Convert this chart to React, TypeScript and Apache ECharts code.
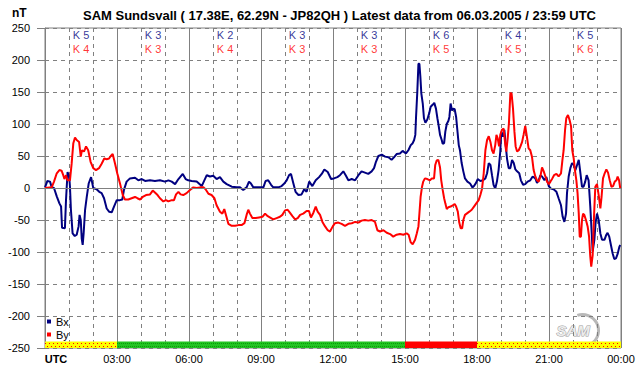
import React, { useEffect, useRef } from "react";
import * as echarts from "echarts";

const FONT = "'Liberation Sans', Arial, sans-serif";

const titleText = "SAM Sundsvall ( 17.38E, 62.29N - JP82QH ) Latest data from 06.03.2005 / 23:59 UTC";

// Bx component [hour UTC, nT]
const bx: [number, number][] = [
  [0, 1], [0.1, 11], [0.21, 10], [0.28, 1], [0.375, 0], [0.49, -13], [0.6, -24], [0.67, -29], [0.71, -62], [0.83, -63],
  [0.875, -19], [0.94, 25], [1.01, 18], [1.04, 2], [1.08, -34], [1.15, -71], [1.24, -75], [1.32, -73], [1.4, -60], [1.44, -42],
  [1.49, -50], [1.53, -79], [1.57, -89], [1.61, -71], [1.67, -34], [1.74, -14], [1.82, 7], [1.92, 17], [2.01, 0], [2.15, -2],
  [2.26, -6], [2.36, -8], [2.46, -16], [2.57, -32], [2.67, -37], [2.78, -38], [2.875, -29], [2.99, -19], [3.125, -19], [3.22, -18],
  [3.29, -3], [3.4, 10], [3.54, 15], [3.75, 16], [3.89, 12], [4.03, 14], [4.17, 11], [4.375, 12], [4.58, 11], [4.79, 12],
  [5.0, 10], [5.14, 12], [5.28, 10], [5.42, 6], [5.56, 14], [5.74, 22], [5.86, 14], [5.97, 12], [6.11, 11], [6.32, 10],
  [6.53, 3], [6.64, 12], [6.74, 20], [6.875, 18], [7.01, 19], [7.15, 14], [7.29, 17], [7.43, 10], [7.57, 6], [7.78, 2],
  [7.99, 1], [8.125, 1], [8.26, -3], [8.4, 1], [8.5, 10], [8.58, 7], [8.68, 1], [8.82, 1], [8.96, 1], [9.1, 1],
  [9.19, 11], [9.3, 12], [9.42, 5], [9.51, 1], [9.72, 1], [9.86, 3], [9.97, 7], [10.07, 12], [10.17, 20], [10.25, 22],
  [10.35, 7], [10.44, -6], [10.56, -11], [10.69, -10], [10.8, -2], [10.9, -6], [11.01, 10], [11.14, 3], [11.28, 12], [11.42, 17],
  [11.53, 22], [11.64, 29], [11.78, 25], [11.92, 14], [12.04, 15], [12.18, 17], [12.29, 20], [12.43, 26], [12.54, 19], [12.64, 12],
  [12.78, 14], [12.92, 12], [13.06, 20], [13.19, 26], [13.33, 24], [13.47, 22], [13.61, 26], [13.71, 31], [13.79, 41], [13.89, 50],
  [14.03, 52], [14.17, 49], [14.31, 48], [14.44, 44], [14.54, 48], [14.65, 53], [14.79, 54], [14.9, 58], [15.04, 54], [15.14, 59],
  [15.24, 67], [15.32, 70], [15.38, 75], [15.43, 83], [15.46, 111], [15.51, 148], [15.56, 194], [15.6, 194], [15.64, 174], [15.68, 148],
  [15.74, 132], [15.79, 109], [15.85, 102], [15.93, 107], [16.01, 117], [16.07, 127], [16.15, 130], [16.22, 133], [16.29, 124], [16.35, 109],
  [16.4, 98], [16.46, 83], [16.53, 75], [16.57, 69], [16.63, 70], [16.68, 88], [16.74, 100], [16.81, 105], [16.85, 111], [16.9, 132],
  [16.96, 121], [17.01, 124], [17.07, 123], [17.13, 111], [17.18, 91], [17.24, 67], [17.29, 59], [17.36, 39], [17.43, 26], [17.5, 15],
  [17.6, 10], [17.71, 7], [17.81, 1], [17.875, 3], [17.96, 8], [18.03, 14], [18.14, 11], [18.25, 12], [18.35, 15], [18.42, 23],
  [18.49, 39], [18.56, 36], [18.625, 20], [18.69, 5], [18.76, -1], [18.83, 10], [18.9, 28], [18.97, 57], [19.01, 88], [19.08, 80],
  [19.14, 91], [19.19, 70], [19.25, 46], [19.32, 31], [19.39, 31], [19.46, 44], [19.53, 39], [19.6, 29], [19.67, 26], [19.76, 23],
  [19.83, 12], [19.92, 5], [20.01, 6], [20.11, 10], [20.22, 12], [20.32, 18], [20.43, 15], [20.5, 8], [20.57, 12], [20.64, 20],
  [20.71, 18], [20.81, 12], [20.89, 17], [20.99, 3], [21.08, -1], [21.19, -2], [21.31, -6], [21.4, -16], [21.5, -27], [21.57, -45],
  [21.64, -53], [21.71, -40], [21.75, -8], [21.82, 18], [21.89, 31], [21.96, 39], [22.03, 36], [22.1, 28], [22.17, 36], [22.24, 44],
  [22.31, 23], [22.375, 2], [22.44, 2], [22.51, 10], [22.57, 20], [22.65, 12], [22.72, -29], [22.78, -71], [22.82, -99], [22.89, -81],
  [22.94, -55], [23.0, -40], [23.07, -50], [23.14, -71], [23.21, -81], [23.31, -81], [23.39, -73], [23.44, -70], [23.51, -76], [23.58, -89],
  [23.65, -102], [23.72, -111], [23.79, -110], [23.86, -103], [23.93, -92], [23.97, -89],
];

// By component [hour UTC, nT]
const by: [number, number][] = [
  [0, 0], [0.28, 1], [0.375, 10], [0.49, 23], [0.6, 28], [0.69, 27], [0.76, 20], [0.81, 14], [0.875, 20], [0.94, 12],
  [1.04, 12], [1.11, 38], [1.18, 70], [1.25, 79], [1.32, 75], [1.42, 72], [1.49, 49], [1.54, 59], [1.625, 57], [1.71, 65],
  [1.8, 59], [1.9, 41], [2.01, 31], [2.125, 28], [2.25, 31], [2.36, 38], [2.47, 46], [2.57, 45], [2.67, 46], [2.74, 50],
  [2.82, 53], [2.92, 38], [3.01, 23], [3.125, 7], [3.24, -11], [3.33, -18], [3.47, -18], [3.61, -16], [3.75, -14], [3.85, -16],
  [3.96, -18], [4.07, -14], [4.21, -11], [4.375, -10], [4.49, -4], [4.58, -7], [4.69, -11], [4.79, -16], [4.93, -21], [5.04, -19],
  [5.14, -21], [5.28, -19], [5.375, -19], [5.46, -10], [5.56, -6], [5.65, -10], [5.76, -11], [5.9, -8], [6.04, -3], [6.18, 1],
  [6.32, 0], [6.46, 1], [6.6, 1], [6.69, -2], [6.81, -9], [6.94, -11], [7.06, -16], [7.15, -27], [7.29, -37], [7.39, -40],
  [7.47, -33], [7.56, -45], [7.64, -56], [7.78, -59], [7.92, -59], [8.06, -58], [8.19, -58], [8.31, -55], [8.4, -42], [8.47, -34],
  [8.54, -40], [8.64, -47], [8.78, -47], [8.92, -46], [9.06, -45], [9.17, -40], [9.28, -44], [9.42, -47], [9.51, -49], [9.65, -47],
  [9.79, -45], [9.89, -42], [10.0, -35], [10.11, -34], [10.21, -39], [10.31, -44], [10.42, -49], [10.53, -47], [10.63, -42], [10.76, -40],
  [10.9, -36], [11.0, -36], [11.08, -46], [11.18, -39], [11.28, -29], [11.36, -37], [11.46, -42], [11.56, -53], [11.67, -60], [11.78, -66],
  [11.875, -68], [11.99, -60], [12.08, -55], [12.22, -54], [12.36, -56], [12.5, -59], [12.64, -56], [12.78, -55], [12.92, -53], [13.06, -54],
  [13.19, -51], [13.33, -50], [13.47, -51], [13.61, -50], [13.75, -53], [13.85, -66], [13.96, -68], [14.1, -66], [14.24, -70], [14.38, -72],
  [14.51, -76], [14.65, -73], [14.79, -72], [14.93, -73], [15.07, -71], [15.15, -73], [15.24, -85], [15.32, -88], [15.42, -81], [15.49, -71],
  [15.56, -60], [15.6, -40], [15.65, -14], [15.71, 2], [15.76, 10], [15.83, 15], [15.93, 14], [16.04, 12], [16.12, 15], [16.21, 15],
  [16.26, 36], [16.32, 43], [16.39, 44], [16.46, 32], [16.51, 12], [16.57, -3], [16.63, -16], [16.68, -24], [16.74, -33], [16.81, -30],
  [16.9, -29], [16.99, -27], [17.07, -25], [17.13, -29], [17.2, -37], [17.26, -54], [17.32, -63], [17.38, -63], [17.43, -50], [17.5, -42],
  [17.57, -40], [17.68, -37], [17.78, -34], [17.875, -29], [17.97, -24], [18.07, -19], [18.14, -11], [18.21, -1], [18.28, 23], [18.35, 59],
  [18.42, 75], [18.49, 81], [18.56, 72], [18.625, 59], [18.69, 54], [18.76, 67], [18.81, 83], [18.86, 78], [18.92, 65], [18.97, 83],
  [19.04, 91], [19.11, 93], [19.18, 67], [19.22, 57], [19.28, 78], [19.33, 101], [19.39, 148], [19.44, 148], [19.5, 124], [19.56, 88],
  [19.61, 65], [19.67, 57], [19.74, 59], [19.81, 65], [19.88, 72], [19.94, 83], [20.01, 97], [20.08, 80], [20.15, 62], [20.22, 59],
  [20.29, 49], [20.36, 28], [20.43, 18], [20.5, 12], [20.57, 10], [20.64, 18], [20.71, 32], [20.78, 26], [20.85, 18], [20.92, 10],
  [20.99, 6], [21.06, 10], [21.14, 15], [21.21, 20], [21.31, 22], [21.4, 18], [21.5, 23], [21.56, 44], [21.61, 59], [21.67, 91],
  [21.72, 109], [21.79, 114], [21.86, 106], [21.92, 96], [21.97, 59], [22.03, 46], [22.08, 28], [22.14, 12], [22.19, -8], [22.24, -40],
  [22.28, -76], [22.33, -76], [22.375, -50], [22.42, -40], [22.47, -42], [22.54, -50], [22.61, -60], [22.67, -76], [22.72, -107], [22.76, -123],
  [22.82, -105], [22.88, -40], [22.93, 2], [23.0, 6], [23.07, -11], [23.14, -32], [23.19, -14], [23.25, 15], [23.32, 23], [23.39, 29],
  [23.46, 24], [23.53, 12], [23.6, 2], [23.67, 3], [23.74, 10], [23.81, 12], [23.86, 18], [23.92, 12], [23.97, -1],
];

// K indices per 3-hour block
const kBlockCenters = [1.5, 4.5, 7.5, 10.5, 13.5, 16.5, 19.5, 22.5];
const kBx = [5, 3, 2, 3, 3, 6, 4, 5];
const kBy = [4, 3, 4, 3, 3, 5, 5, 6];
const kBxRow = 239;
const kByRow = 217;

// status bar segments [from hour, to hour, state]
const statusStart = [0, 3, 15, 18];
const statusEnd = [3, 15, 18, 24];
const statusState = ["quiet", "unsettled", "storm", "quiet"];

const BX_COLOR = "#000080";
const BY_COLOR = "#FF0000";
const GRID_COLOR = "#808080";

const statusFill: Record<string, string> = { quiet: "#FFFF00", unsettled: "#22C422", storm: "#FF0000" };
const statusDot: Record<string, string | null> = { quiet: "#FF0000", unsettled: "#0A9A0A", storm: null };

function hourLabel(v: number) {
  if (v === 0) return "{u|UTC}";
  const h = v % 24;
  return (h < 10 ? "0" : "") + h + ":00";
}

export default function App() {
  const ref = useRef<HTMLDivElement>(null);

  useEffect(() => {
    if (!ref.current) return;
    const chart = echarts.init(ref.current, null, { renderer: "svg" });

    const areaData = statusStart.map((s, i) => [
      { xAxis: s, yAxis: -250, itemStyle: { color: statusFill[statusState[i]] } },
      { xAxis: statusEnd[i], yAxis: -240 },
    ]);

    const dotLines: any[] = [];
    statusStart.forEach((s, i) => {
      const c = statusDot[statusState[i]];
      if (!c) return;
      const fine = statusState[i] === "unsettled";
      [-242.5, -246.5].forEach((yy, j) => {
        dotLines.push([
          {
            coord: [s, yy],
            lineStyle: {
              color: c,
              width: 1,
              type: fine ? [1, 1] : [1, 3],
              dashOffset: fine ? j : j * 2,
            },
          },
          { coord: [statusEnd[i], yy] },
        ]);
      });
    });

    const option: any = {
      animation: false,
      backgroundColor: "#ffffff",
      textStyle: { fontFamily: FONT },
      title: {
        text: titleText,
        left: 78,
        top: 4,
        textStyle: { fontSize: 13, fontWeight: "bold", color: "#000", fontFamily: FONT },
      },
      legend: {
        data: ["Bx", "By"],
        orient: "vertical",
        left: 45,
        top: 314,
        icon: "rect",
        itemWidth: 4,
        itemHeight: 4,
        itemGap: 2,
        padding: [2, 2, 2, 2],
        selectedMode: false,
        textStyle: { fontSize: 11, color: "#000", fontFamily: FONT },
      },
      grid: {
        left: 45,
        right: 21,
        top: 28,
        bottom: 28,
        show: true,
        borderColor: GRID_COLOR,
        borderWidth: 1,
        backgroundColor: "#ffffff",
      },
      xAxis: {
        type: "value",
        min: 0,
        max: 24,
        interval: 3,
        axisLine: { show: true, lineStyle: { color: GRID_COLOR } },
        axisTick: { show: false },
        axisLabel: {
          margin: 5,
          fontSize: 11,
          color: "#000",
          fontFamily: FONT,
          formatter: hourLabel,
          rich: { u: { fontWeight: "bold", fontSize: 11, fontFamily: FONT, color: "#000", padding: [0, 0, 0, 22] } },
        },
        splitLine: { show: true, lineStyle: { color: GRID_COLOR, width: 1, type: "solid" } },
        minorTick: { show: false, splitNumber: 3 },
        minorSplitLine: { show: true, lineStyle: { color: GRID_COLOR, width: 1, type: [4, 4] } },
      },
      yAxis: {
        type: "value",
        min: -250,
        max: 250,
        interval: 50,
        axisLine: { show: true, lineStyle: { color: GRID_COLOR } },
        axisTick: { show: true, length: 8, lineStyle: { color: GRID_COLOR } },
        axisLabel: { margin: 15, fontSize: 11, color: "#000", fontFamily: FONT },
        splitLine: { show: true, lineStyle: { color: GRID_COLOR, width: 1, type: [4, 4] } },
      },
      graphic: [
        {
          type: "text",
          left: 12,
          top: 7,
          style: { text: "nT", font: `bold 12px ${FONT}`, fill: "#000" },
        },
        {
          type: "group",
          left: 556,
          top: 312,
          silent: true,
          children: [
            {
              type: "arc",
              shape: { cx: 30, cy: 14, r: 16, startAngle: -1.9, endAngle: 0.9 },
              style: { stroke: "#b8b8b8", lineWidth: 3, fill: null },
            },
            {
              type: "text",
              x: 4,
              y: 6,
              style: {
                text: "SAM",
                font: `italic bold 15px ${FONT}`,
                fill: "#ececec",
                stroke: "#9a9a9a",
                lineWidth: 1,
              },
            },
          ],
        },
      ],
      series: [
        {
          name: "Bx",
          type: "line",
          data: bx,
          showSymbol: false,
          symbol: "none",
          color: BX_COLOR,
          lineStyle: { color: BX_COLOR, width: 2 },
          itemStyle: { color: BX_COLOR },
          z: 3,
          markArea: { silent: true, data: areaData, itemStyle: { opacity: 1 } },
          markLine: {
            silent: true,
            symbol: ["none", "none"],
            label: { show: false },
            data: [
              { yAxis: 0, lineStyle: { color: GRID_COLOR, width: 1, type: "solid" } },
              ...dotLines,
            ],
          },
        },
        {
          name: "By",
          type: "line",
          data: by,
          showSymbol: false,
          symbol: "none",
          color: BY_COLOR,
          lineStyle: { color: BY_COLOR, width: 2 },
          itemStyle: { color: BY_COLOR },
          z: 4,
        },
        {
          name: "KBx",
          type: "scatter",
          silent: true,
          symbolSize: 0,
          data: kBlockCenters.map((h, i) => [h, kBxRow, kBx[i]]),
          label: {
            show: true,
            position: "inside",
            formatter: (p: any) => "K " + p.data[2],
            fontSize: 11,
            color: BX_COLOR,
            fontFamily: FONT,
          },
          z: 5,
        },
        {
          name: "KBy",
          type: "scatter",
          silent: true,
          symbolSize: 0,
          data: kBlockCenters.map((h, i) => [h, kByRow, kBy[i]]),
          label: {
            show: true,
            position: "inside",
            formatter: (p: any) => "K " + p.data[2],
            fontSize: 11,
            color: BY_COLOR,
            fontFamily: FONT,
          },
          z: 5,
        },
      ],
    };

    chart.setOption(option);
    return () => chart.dispose();
  }, []);

  return (
    <div
      ref={ref}
      style={{ position: "absolute", left: 0, top: 0, width: 642, height: 376, background: "#fff" }}
    />
  );
}
